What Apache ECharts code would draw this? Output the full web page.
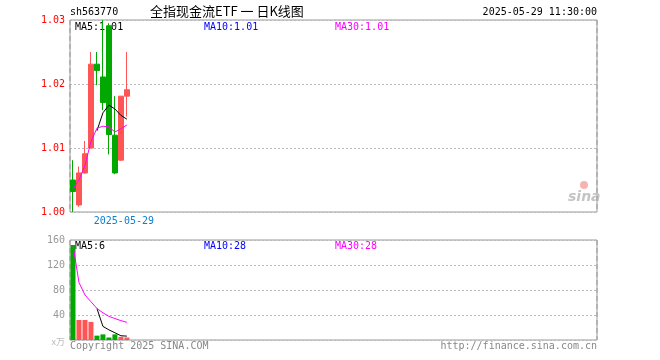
<!DOCTYPE html>
<html>
<head>
<meta charset="utf-8">
<script src="https://cdn.jsdelivr.net/npm/echarts@6/dist/echarts.min.js"></script>
<style>html,body{margin:0;padding:0;background:#fff}#c{width:660px;height:360px}</style>
</head>
<body>
<div id="c"></div>
<script>
// ---- data ----
const dates = ['2025-05-16','2025-05-19','2025-05-20','2025-05-21','2025-05-22','2025-05-23','2025-05-26','2025-05-27','2025-05-28','2025-05-29'];
const opens  = [1.0050, 1.0011, 1.0061, 1.0100, 1.0231, 1.0211, 1.0291, 1.0120, 1.0081, 1.0181];
const closes = [1.0032, 1.0061, 1.0091, 1.0231, 1.0221, 1.0171, 1.0121, 1.0061, 1.0181, 1.0191];
const lows   = [1.0000, 1.0008, 1.0060, 1.0100, 1.0198, 1.0159, 1.0090, 1.0059, 1.0080, 1.0149];
const highs  = [1.0081, 1.0071, 1.0111, 1.0250, 1.0250, 1.0300, 1.0295, 1.0181, 1.0181, 1.0250];
const priceMA5  = [null, null, null, null, 1.0127, 1.0155, 1.0167, 1.0161, 1.0151, 1.0145];
const priceMA30 = [1.0037, 1.0050, 1.0073, 1.0110, 1.0131, 1.0134, 1.0133, 1.0125, 1.0130, 1.0136];
const volumes   = [152, 32, 32, 29, 7, 9, 4, 9, 5, 4];
const volMA5    = [null, null, null, null, 50.4, 21.8, 16.2, 11.6, 6.8, 6.2];
const volMA30   = [152, 92, 72, 61.3, 50.4, 43.5, 37.9, 34.3, 31.0, 28.3];
const priceTicks = [1.00, 1.01, 1.02, 1.03];
const volTicks = [0, 40, 80, 120, 160];
const code = 'sh563770';
const title = '全指现金流ETF 一 日K线图';
const stamp = '2025-05-29 11:30:00';
const ma10PriceText = '1.01';
const ma10VolText = '28';

// ---- build ----
const SLOTS = 88;
const cats = dates.concat(Array.from({length: SLOTS - dates.length}, () => ''));
const lastIdx = dates.length - 1;
const RED = '#ff5555', GREEN = '#00a800';
const candle = dates.map((d, i) => [opens[i], closes[i], lows[i], highs[i]]);
const volData = volumes.map((v, i) => ({value: v, itemStyle: {color: closes[i] > opens[i] ? RED : GREEN}}));
const mono = 'DejaVu Sans Mono';
const last = a => a[a.length - 1];

const chart = echarts.init(document.getElementById('c'), null, {renderer: 'canvas'});
const vline = {show: true, interval: (i) => i === lastIdx, lineStyle: {color: '#aaa', type: [5, 3], width: 1.5}};
chart.setOption({
  animation: false,
  grid: [
    {left: 70, right: 63, top: 20, height: 192, show: true, borderColor: '#999', borderWidth: 1},
    {left: 70, right: 63, top: 240, height: 100, show: true, borderColor: '#999', borderWidth: 1}
  ],
  xAxis: [
    {type: 'category', gridIndex: 0, data: cats, boundaryGap: true,
     axisLine: {show: false}, axisTick: {show: false}, splitLine: vline,
     axisLabel: {interval: (i) => i === lastIdx, color: '#0a80d0', fontFamily: mono, fontSize: 10, margin: 4, padding: [0, 6, 0, 0]}},
    {type: 'category', gridIndex: 1, data: cats, boundaryGap: true,
     axisLine: {show: false}, axisTick: {show: false}, splitLine: vline, axisLabel: {show: false}}
  ],
  yAxis: [
    {type: 'value', gridIndex: 0, min: priceTicks[0], max: last(priceTicks), interval: 0.01,
     axisLine: {show: false}, axisTick: {show: false},
     splitLine: {show: true, lineStyle: {color: '#bbb', type: [2, 2]}},
     axisLabel: {color: '#ff0000', fontFamily: mono, fontSize: 10, margin: 5, formatter: v => v.toFixed(2)}},
    {type: 'value', gridIndex: 1, min: volTicks[0], max: last(volTicks), interval: 40,
     axisLine: {show: false}, axisTick: {show: false},
     splitLine: {show: true, lineStyle: {color: '#bbb', type: [2, 2]}},
     axisLabel: {color: '#999', fontFamily: mono, fontSize: 10, margin: 5,
       formatter: v => v === 0 ? '{u|x万}' : String(v),
       rich: {u: {color: '#bbb', fontSize: 9, fontFamily: 'Noto Sans CJK SC', padding: [4, 0, 0, 0]}}}}
  ],
  series: [
    {type: 'candlestick', xAxisIndex: 0, yAxisIndex: 0, data: candle, barWidth: 5,
     itemStyle: {color: RED, color0: GREEN, borderColor: RED, borderColor0: GREEN, borderWidth: 1}},
    {type: 'line', xAxisIndex: 0, yAxisIndex: 0, data: priceMA5, symbol: 'none', lineStyle: {color: '#000', width: 1}},
    {type: 'line', xAxisIndex: 0, yAxisIndex: 0, data: priceMA30, symbol: 'none', lineStyle: {color: '#ff00ff', width: 1}},
    {type: 'bar', xAxisIndex: 1, yAxisIndex: 1, data: volData, barWidth: 5},
    {type: 'line', xAxisIndex: 1, yAxisIndex: 1, data: volMA5, symbol: 'none', lineStyle: {color: '#000', width: 1}},
    {type: 'line', xAxisIndex: 1, yAxisIndex: 1, data: volMA30, symbol: 'none', lineStyle: {color: '#ff00ff', width: 1}}
  ],
  graphic: [
    {type: 'text', left: 70, top: 7, style: {text: code, font: '10px "' + mono + '"', fill: '#000'}},
    {type: 'text', left: 150, top: 5, style: {text: title, font: '13px "Noto Sans CJK SC"', fill: '#000'}},
    {type: 'text', right: 63, top: 7, style: {text: stamp, font: '10px "' + mono + '"', fill: '#000'}},
    {type: 'text', left: 75, top: 22, style: {text: 'MA5:' + last(priceMA5).toFixed(2), font: '10px "' + mono + '"', fill: '#000'}},
    {type: 'text', left: 204, top: 22, style: {text: 'MA10:' + ma10PriceText, font: '10px "' + mono + '"', fill: '#0000ff'}},
    {type: 'text', left: 335, top: 22, style: {text: 'MA30:' + last(priceMA30).toFixed(2), font: '10px "' + mono + '"', fill: '#ff00ff'}},
    {type: 'text', left: 75, top: 241, style: {text: 'MA5:' + Math.round(last(volMA5)), font: '10px "' + mono + '"', fill: '#000'}},
    {type: 'text', left: 204, top: 241, style: {text: 'MA10:' + ma10VolText, font: '10px "' + mono + '"', fill: '#0000ff'}},
    {type: 'text', left: 335, top: 241, style: {text: 'MA30:' + Math.round(last(volMA30)), font: '10px "' + mono + '"', fill: '#ff00ff'}},
    {type: 'text', left: 70, top: 341, style: {text: 'Copyright 2025 SINA.COM', font: '10px "' + mono + '"', fill: '#888'}},
    {type: 'text', right: 63, top: 341, style: {text: 'http://finance.sina.com.cn', font: '10px "' + mono + '"', fill: '#888'}},
    {type: 'circle', left: 580, top: 181, shape: {r: 4}, style: {fill: '#f6b3b3'}},
    {type: 'text', left: 568, top: 190, style: {text: 'sina', font: 'italic bold 14px "DejaVu Sans"', fill: '#c4c4c4'}}
  ]
});
</script>
</body>
</html>
